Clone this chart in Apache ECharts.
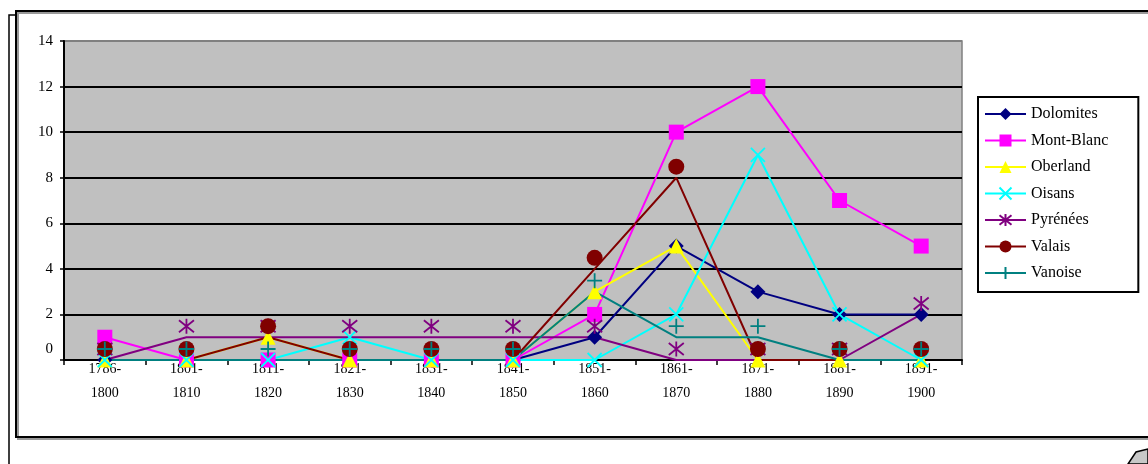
<!DOCTYPE html>
<html>
<head>
<meta charset="utf-8">
<script src="https://cdn.jsdelivr.net/npm/echarts@6/dist/echarts.min.js"></script>
<style>
html,body{margin:0;padding:0;background:#fff;}
#chart{width:1148px;height:464px;}
</style>
</head>
<body>
<div id="chart"></div>
<script>
const categories = ['1786-\n1800','1801-\n1810','1811-\n1820','1821-\n1830','1831-\n1840','1841-\n1850','1851-\n1860','1861-\n1870','1871-\n1880','1881-\n1890','1891-\n1900'];
const dolomites  = [0,0,0,0,0,0,1,5,3,2,2];
const montBlanc  = [1,0,0,0,0,0,2,10,12,7,5];
const oberland   = [0,0,1,0,0,0,3,5,0,0,0];
const oisans     = [0,0,0,1,0,0,0,2,9,2,0];
const pyrenees   = [0,1,1,1,1,1,1,0,0,0,2];
const valais     = [0,0,1,0,0,0,4,8,0,0,0];
const vanoise    = [0,0,0,0,0,0,3,1,1,0,0];
const yTicks = [0,2,4,6,8,10,12,14];

const FONT = '"Liberation Serif","Times New Roman",serif';
const X_PATH = 'path://M0,0L10,10M10,0L0,10';
const STAR_PATH = 'path://M0,1L10,9M10,1L0,9M5,0L5,10';
const PLUS_PATH = 'path://M5,0L5,10M0,5L10,5';

function mk(name, data, color, symbol, size, stroke, offset) {
  return {
    name: name, type: 'line', data: data,
    symbol: symbol, symbolSize: size, showSymbol: true,
    symbolOffset: offset ? [0, offset] : [0, 0],
    lineStyle: {color: color, width: 2},
    itemStyle: stroke ? {color: 'rgba(0,0,0,0)', borderColor: color, borderWidth: 1.8}
                      : {color: color, borderColor: color, borderWidth: 0},
    emphasis: {disabled: true},
    animation: false
  };
}

const chart = echarts.init(document.getElementById('chart'), null, {renderer: 'canvas'});
chart.setOption({
  backgroundColor: '#ffffff',
  animation: false,
  textStyle: {fontFamily: FONT, color: '#000'},
  graphic: [
    {type: 'polyline', shape: {points: [[9,464],[9,15],[16,15]]}, style: {stroke: '#000', lineWidth: 1.5, fill: null}},
    {type: 'rect', shape: {x: 18, y: 13, width: 1140, height: 426}, style: {stroke: '#999', lineWidth: 2, fill: null}},
    {type: 'rect', shape: {x: 16, y: 11, width: 1140, height: 426}, style: {stroke: '#000', lineWidth: 2, fill: null}},
    {type: 'polygon', shape: {points: [[1128,464],[1136,452],[1148,449],[1148,464]]}, style: {stroke: '#000', lineWidth: 1.5, fill: '#c8c8c8'}}
  ],
  grid: {
    left: 64, top: 41, width: 898, height: 319,
    show: true, backgroundColor: '#C0C0C0', borderColor: '#808080', borderWidth: 1.5
  },
  legend: {
    orient: 'vertical', left: 978, top: 97,
    padding: [8, 30, 10, 6],
    itemGap: 8.5, itemWidth: 41, itemHeight: 15,
    backgroundColor: '#fff', borderColor: '#000', borderWidth: 2,
    textStyle: {fontFamily: FONT, fontSize: 16, color: '#000', lineHeight: 18},
    data: ['Dolomites','Mont-Blanc','Oberland','Oisans','Pyrénées','Valais','Vanoise']
  },
  xAxis: {
    type: 'category', data: categories, boundaryGap: true,
    axisLine: {show: true, lineStyle: {color: '#000', width: 2}},
    axisTick: {show: true, alignWithLabel: false, length: 5, lineStyle: {color: '#000', width: 1.5}},
    axisLabel: {fontFamily: FONT, fontSize: 14, color: '#000', lineHeight: 24, margin: -3, interval: 0},
    splitLine: {show: false}
  },
  yAxis: {
    type: 'value', min: 0, max: 14, interval: 2,
    axisLine: {show: true, lineStyle: {color: '#000', width: 2}},
    axisTick: {show: true, length: 4, lineStyle: {color: '#000', width: 1.5}},
    axisLabel: {fontFamily: FONT, fontSize: 15, color: '#000', margin: 11,
      formatter: function (v) {
        if (yTicks.indexOf(v) < 0) return '';
        return v === 0 ? '{z|0}' : String(v);
      },
      rich: {z: {fontFamily: FONT, fontSize: 15, color: '#000', padding: [0, 0, 22, 0]}}
    },
    splitLine: {show: true, lineStyle: {color: ['#000','#000','#000','#000','#000','#000','#000','#808080'], width: 1.8}}
  },
  series: [
    mk('Dolomites', dolomites, '#000080', 'diamond', 15, false, 0),
    mk('Mont-Blanc', montBlanc, '#FF00FF', 'rect', 15, false, 0),
    mk('Oberland', oberland, '#FFFF00', 'triangle', 15, false, 0),
    mk('Oisans', oisans, '#00FFFF', X_PATH, 14, true, 0),
    mk('Pyrénées', pyrenees, '#800080', STAR_PATH, 15, true, -11),
    mk('Valais', valais, '#800000', 'circle', 16, false, -11),
    mk('Vanoise', vanoise, '#008080', PLUS_PATH, 15, true, -11)
  ]
});
</script>
</body>
</html>
